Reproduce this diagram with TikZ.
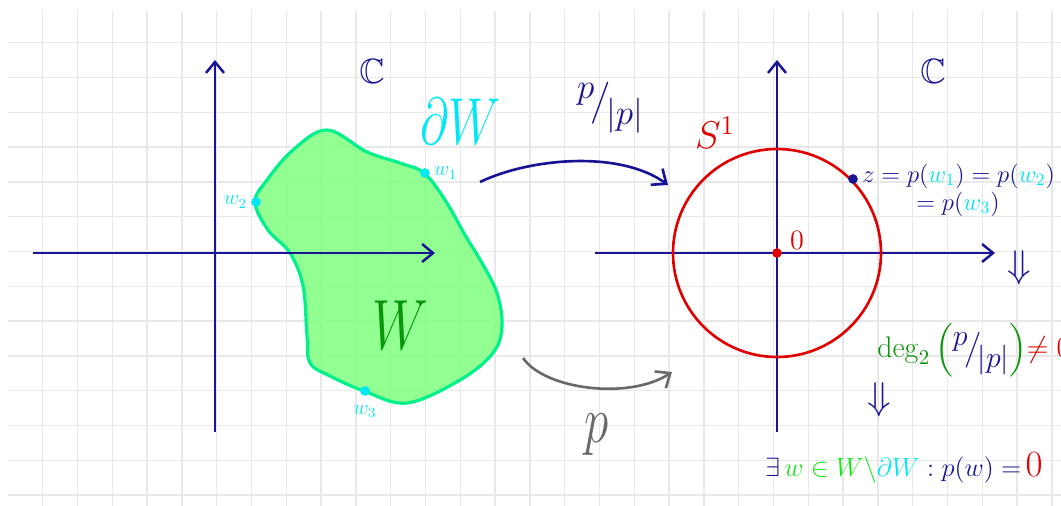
\RequirePackage{fix-cm}
\documentclass[tikz,border=0pt]{standalone}
\usepackage{amsmath,amssymb}
\usepackage{graphicx}
\usepackage{xcolor}
\usepackage{tikz}
\usetikzlibrary{arrows.meta,positioning,calc}
\definecolor{inkblue}{RGB}{25,20,150}
\definecolor{inkred}{RGB}{225,0,0}
\definecolor{inkcyan}{RGB}{0,232,245}
\definecolor{inkgreen}{RGB}{10,150,10}
\definecolor{inklime}{RGB}{20,235,20}
\definecolor{inkgray}{RGB}{105,105,105}
\definecolor{blobfill}{RGB}{128,255,128}
\definecolor{blobedge}{RGB}{0,240,140}
\definecolor{gridgray}{RGB}{232,232,232}
\newcommand{\handtall}[1]{\scalebox{1}[1.35]{#1}}
\newcommand{\pbyabs}{\raisebox{.4em}{$p$}\kern-.12em$\big/$\kern-.12em\raisebox{-.35em}{$|p|$}}

\begin{document}
\begin{tikzpicture}[x=0.02cm,y=-0.02cm,
  gridline/.style={gridgray,line width=0.85pt},
  axis/.style={inkblue,line width=1.4pt,-{Straight Barb[length=2.2mm,width=3.6mm]}},
  maparrow/.style={line width=1.5pt,-{Straight Barb[length=2.4mm,width=4mm]}},
  blob/.style={fill=blobfill,fill opacity=0.85,draw=blobedge,draw opacity=1,line width=1.8pt},
  dot/.style={circle,fill,inner sep=0pt,minimum size=5.5pt},
  lab/.style={inner sep=0pt,font=\fontsize{#1}{#1}\selectfont}]
\useasboundingbox[fill=white] (0,0) rectangle (1061,506);
% squared paper
\begin{scope}
\clip (8,11) rectangle (1061,506);
\foreach \k in {0,...,29} \draw[gridline] ({42.7+34.8*\k},11) -- ++(0,495);
\foreach \k in {0,...,13} \draw[gridline] (8,{42.7+34.8*\k}) -- ++(1053,0);
\end{scope}
% domain W
\path[blob] plot[smooth cycle,tension=0.6] coordinates {(327,130) (367,152) (400,163) (424,173)
  (445,200) (465,235) (482,263) (497,293) (502,326) (493,353) (460,380) (407,403) (364,391)
  (330,376) (310,363) (307,336) (303,286) (290,253) (268,230) (255,202) (267,180) (293,150)};
% left plane
\coordinate (O1) at (215,253);
\draw[axis] (33,253) -- (435,253);
\draw[axis] (215,432) -- (215,60);
\node[lab=20,inkblue] (C1) at (372,71) {$\mathbb{C}$};
\node[lab=28,inkcyan] (dW) at (461,121) {\handtall{$\partial W$}};
\node[lab=30,inkgreen] (Wlab) at (400,325) {\handtall{$W$}};
\node[dot,inkcyan] (w1) at (425,173) {};
\node[dot,inkcyan] (w2) at (256,202) {};
\node[dot,inkcyan] (w3) at (365,391) {};
\node[lab=12,inkcyan,right=2pt of w1] (w1lab) {$w_1$};
\node[lab=12,inkcyan,left=2pt of w2] (w2lab) {$w_2$};
\node[lab=12,inkcyan,below=5pt of w3] (w3lab) {$w_3$};
% right plane
\coordinate (O2) at (777,253);
\draw[axis] (595,253) -- (995,253);
\draw[axis] (777,432) -- (777,60);
\draw[inkred,line width=1.5pt] (O2) circle (104);
\node[dot,inkred] (zero) at (O2) {};
\node[lab=16,inkred] (zerolab) at (797,240) {$0$};
\node[lab=22,inkred] (S1) at (715,133) {$S^1$};
\node[lab=20,inkblue] (C2) at (933,71) {$\mathbb{C}$};
\node[dot,inkblue] (z) at (853,179) {};
\node[lab=14,inkblue,anchor=west] (zlab) at (862,176)
  {$z=p(\textcolor{inkcyan}{w_1})=p(\textcolor{inkcyan}{w_2})$};
\node[lab=14,inkblue] (zlab2) at (958,204) {$=p(\textcolor{inkcyan}{w_3})$};
% maps between the planes
\coordinate (a1s) at (480,182);
\coordinate (a1e) at (668,185);
\coordinate (a2s) at (523,358);
\coordinate (a2e) at (672,372);
\draw[maparrow,inkblue] (a1s) .. controls (530,158) and (620,150) .. (a1e);
\draw[maparrow,inkgray] (a2s) .. controls (545,390) and (630,400) .. (a2e);
\node[lab=20,inkblue] (pnorm) at (610,108) {\pbyabs};
\node[lab=28,inkgray] (plab) at (597,435) {\handtall{$p$}};
% conclusion
\node[lab=22,inkblue] (impl1) at (1019,268) {$\Downarrow$};
\node[lab=17,anchor=west] (deg) at (877,350)
  {\color{inkgreen}$\deg_2\Big($\textcolor{inkblue}{\pbyabs}$\Big)$\color{inkred}$\neq0$};
\node[lab=22,inkblue] (impl2) at (879,400) {$\Downarrow$};
\node[lab=15,inkblue,anchor=west] (concl) at (765,468)
  {$\exists\,\textcolor{inklime}{w\in W\setminus}\textcolor{inkcyan}{\partial W}:p(w)=$\,\textcolor{inkred}{\fontsize{21}{21}\selectfont$0$}};
\end{tikzpicture}
\end{document}
